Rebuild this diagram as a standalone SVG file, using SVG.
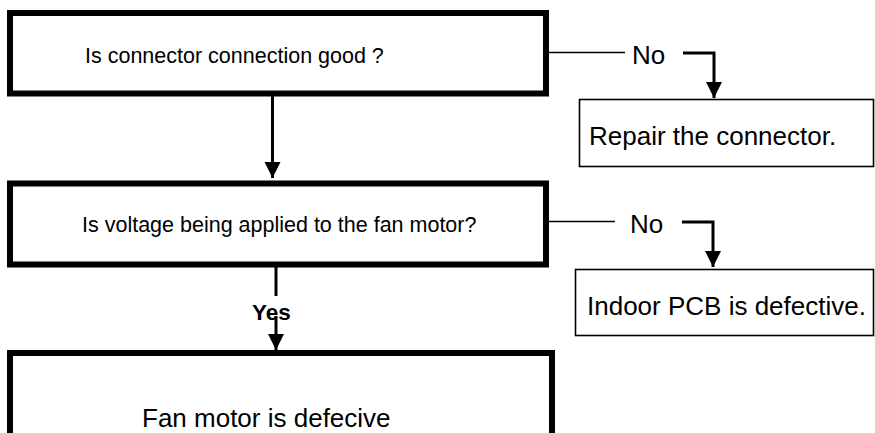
<svg xmlns="http://www.w3.org/2000/svg" width="875" height="433" viewBox="0 0 875 433">
<style>
.q{fill:#fff;stroke:#000;stroke-width:6}
.r{fill:#fff;stroke:#000;stroke-width:1.6}
.t{font-family:"Liberation Sans",Arial,sans-serif;fill:#000}
.qt{font-size:21.5px}
.bt{font-size:26px}
.thin{stroke:#000;stroke-width:1.5;fill:none}
.thick{stroke:#000;stroke-width:3;fill:none}
</style>
<defs>
<marker id="ah" markerUnits="userSpaceOnUse" markerWidth="18" markerHeight="18" viewBox="0 0 18 18" refX="17" refY="9" orient="auto">
<path d="M1,1 L17,9 L1,17 Z" fill="#000"/>
</marker>
</defs>
<rect width="875" height="433" fill="#fff"/>
<g id="connectors">
<line class="thick" x1="272.5" y1="96" x2="272.5" y2="178" marker-end="url(#ah)"/>
<line class="thin" x1="549" y1="52.5" x2="625" y2="52.5"/>
<polyline class="thick" points="683,53 714,53 714,98" marker-end="url(#ah)"/>
<line class="thin" x1="549" y1="221.5" x2="615" y2="221.5"/>
<polyline class="thick" points="682,222 713,222 713,267" marker-end="url(#ah)"/>
<line class="thick" x1="276" y1="266" x2="276" y2="296"/>
<line class="thick" x1="276" y1="316" x2="276" y2="350" marker-end="url(#ah)"/>
<text class="t bt" x="632" y="64">No</text>
<text class="t bt" x="630" y="233">No</text>
<text class="t" x="252" y="320" font-size="22.5" font-weight="bold">Yes</text>
</g>
<g id="q1">
<rect class="q" x="10" y="13" width="536" height="80.5"/>
<text class="t qt" x="85" y="63">Is connector connection good ?</text>
</g>
<g id="repair">
<rect class="r" x="579.5" y="99.5" width="294" height="67"/>
<text class="t bt" x="589" y="145">Repair the connector.</text>
</g>
<g id="q2">
<rect class="q" x="10" y="183.5" width="536" height="81"/>
<text class="t qt" x="82" y="232">Is voltage being applied to the fan motor?</text>
</g>
<g id="pcb">
<rect class="r" x="575.5" y="269.5" width="298" height="66"/>
<text class="t bt" x="587" y="315">Indoor PCB is defective.</text>
</g>
<g id="fan">
<rect class="q" x="10" y="353" width="542" height="100"/>
<text class="t bt" x="142" y="427">Fan motor is defecive</text>
</g>
</svg>
